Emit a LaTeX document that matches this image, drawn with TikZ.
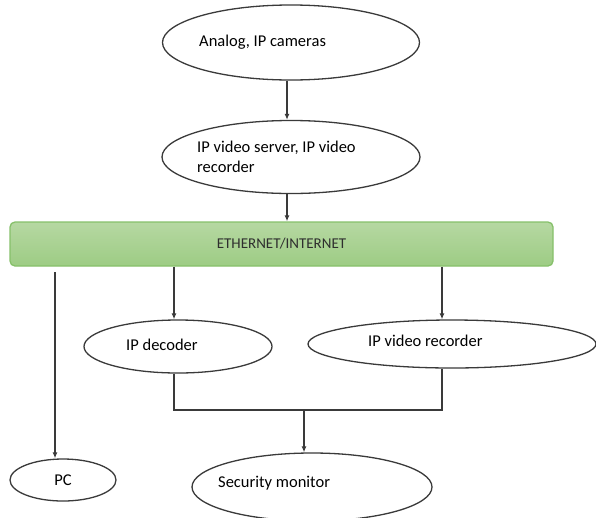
\documentclass[tikz,border=0pt]{standalone}
\usepackage{fontspec}
\setmainfont{Carlito}
\usetikzlibrary{shapes.geometric,arrows.meta}
\definecolor{linegray}{HTML}{3A3A3A}
\definecolor{bartop}{HTML}{B6D8A2}
\definecolor{barbot}{HTML}{9DCC84}
\definecolor{barline}{HTML}{86C06A}
\definecolor{bartext}{HTML}{2E2E2E}
\begin{document}
\begin{tikzpicture}[x=1pt,y=-1pt,
  oval/.style={ellipse,draw=linegray,line width=1.3pt,inner sep=0pt,fill=white},
  lbl/.style={anchor=west,font=\fontsize{16.5}{20}\selectfont,text=black,inner sep=0pt},
  conn/.style={draw=linegray,line width=1.4pt},
  arr/.style={conn,-{Latex[length=6pt,width=5pt]}}]
\useasboundingbox (0,0) rectangle (596,517);
% nodes
\node[oval,minimum width=257,minimum height=75] (cam) at (291,42.5) {};
\node[lbl] (camt) at (199,42) {Analog, IP cameras};
\node[oval,minimum width=258,minimum height=73] (srv) at (291,157) {};
\node[lbl,align=left] (srvt) at (197,157) {IP video server, IP video\\recorder};
\node[draw=barline,line width=1.3pt,rounded corners=5pt,top color=bartop,bottom color=barbot,
      minimum width=543,minimum height=44,inner sep=0pt,
      font=\fontsize{15}{18}\selectfont,text=bartext] (bar) at (281.5,244) {ETHERNET/INTERNET};
\node[oval,minimum width=188,minimum height=53] (dec) at (178,346.5) {};
\node[lbl] (dect) at (126,345) {IP decoder};
\node[oval,minimum width=288,minimum height=48] (rec) at (452,344) {};
\node[lbl] (rect) at (368,341) {IP video recorder};
\node[oval,minimum width=106,minimum height=42,font=\fontsize{16.5}{20}\selectfont] (pc) at (63,480) {PC};
\node[oval,minimum width=240,minimum height=68] (mon) at (312,487) {};
\node[lbl] (mont) at (218,483) {Security monitor};
% column coordinates
\coordinate (cA) at (287,0);
\coordinate (cB) at (174,0);
\coordinate (cC) at (442,0);
\coordinate (pcs) at (55,272);
\coordinate (j) at (304,410);
% connectors
\draw[arr] (cam.south -| cA) -- (srv.north -| cA);
\draw[arr] (srv.south -| cA) -- (bar.north -| cA);
\draw[arr] (bar.south -| cB) -- (dec.north -| cB);
\draw[arr] (bar.south -| cC) -- (rec.north -| cC);
\draw[arr] (pcs) -- (pc.north -| pcs);
\draw[conn] (dec.south -| cB) -- (cB |- j) -- (cC |- j) -- (rec.south -| cC);
\draw[arr] (j) -- (mon.north -| j);
\end{tikzpicture}
\end{document}
